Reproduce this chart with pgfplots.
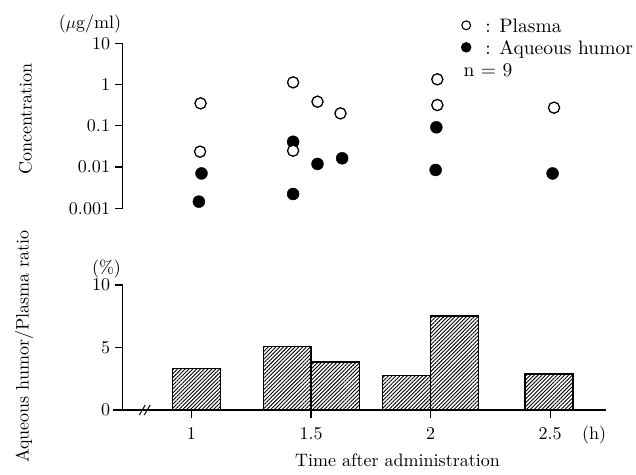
\documentclass[border=0pt]{standalone}
\usepackage{fontspec}
\setmainfont{lmroman10-regular.otf}[ItalicFont=lmroman10-italic.otf, BoldFont=lmroman10-bold.otf]
\usepackage{pgfplots}
\pgfplotsset{compat=1.18}
\usetikzlibrary{patterns.meta}

\newcommand{\fs}{\fontsize{18}{21.6}\selectfont}
\newcommand{\fl}{\fontsize{19.5}{23.4}\selectfont}

\pgfplotsset{
  common/.style={
    scale only axis,
    width=483.7pt,
    xmin=0.7125, xmax=2.735,
    tick align=outside,
    major tick length=8pt,
    axis line style={line width=1.2pt},
    tick style={black, line width=1.2pt},
    tick label style={font=\fs},
    /pgf/number format/assume math mode=true,
    clip=false,
  },
}

\begin{document}
\begin{tikzpicture}[font=\fs]
\useasboundingbox (0pt,0pt) rectangle (636pt,474pt);

% concentrations
\begin{axis}[
  common,
  at={(122.7pt,265.7pt)}, anchor=south west,
  height=165pt,
  ymode=log, ymin=0.001, ymax=10,
  axis x line=none, axis y line*=left,
  ytick={0.001,0.01,0.1,1,10},
  yticklabels={0.001,0.01,0.1,1,10},
  yminorticks=false,
  yticklabel style={inner sep=4.5pt},
  legend image code/.code={%
    \draw[#1] plot coordinates {(0pt,2pt)};
    \path (-5pt,0pt) (19pt,0pt);},
  legend style={draw=none, fill=none, inner sep=0pt, outer sep=0pt,
    at={(0.6994,1.1515)}, anchor=north west,
    row sep=4pt, font=\fl,
    nodes={inner sep=0pt, text height=14pt, text depth=4pt}},
  legend cell align=left,
]
\addlegendimage{only marks, mark=*, mark size=4.4pt,
  mark options={fill=white, draw=black, line width=1.1pt}}
\addlegendentry{: Plasma}
\addlegendimage{only marks, mark=*, mark size=5pt,
  mark options={fill=black, draw=black}}
\addlegendentry{: Aqueous humor}

% aqueous humor
\addplot[forget plot, only marks, mark=*, mark size=6pt,
  mark options={fill=black, draw=black, line width=0.4pt}] coordinates {
  (1.042,0.0070) (1.031,0.00145) (1.425,0.041) (1.425,0.00222)
  (1.527,0.0119) (1.630,0.0163) (2.024,0.092) (2.021,0.0085) (2.510,0.0070)
};
% plasma
\addplot[forget plot, only marks, mark=*, mark size=5.6pt,
  mark options={fill=white, draw=black, line width=1.3pt}] coordinates {
  (1.038,0.35) (1.036,0.0236) (1.425,1.13) (1.425,0.0249) (1.527,0.384)
  (1.623,0.20) (2.028,1.34) (2.028,0.319) (2.516,0.275)
};
\end{axis}

% ratio
\begin{axis}[
  common,
  at={(122.7pt,64pt)}, anchor=south west,
  height=125pt,
  ymin=0, ymax=10,
  axis x line*=bottom, axis y line*=left,
  xtick={1,1.5,2,2.5},
  xticklabels={1,1.5,2,2.5},
  ytick={0,5,10},
  yticklabel style={inner sep=4.5pt},
  xticklabel style={inner sep=0pt, yshift=-9pt},
]
\addplot[ybar, bar width=0.2, draw=black, line width=1.2pt,
  pattern={Lines[angle=45, distance=2.7pt, line width=0.9pt]}] coordinates {
  (1.02,3.34) (1.40,5.1) (1.603,3.84) (1.90,2.74) (2.10,7.52) (2.495,2.88)
};
\draw[line width=1.2pt] ([xshift=-10pt]axis cs:0.7125,0) -- (axis cs:0.7125,0);
\draw[line width=1pt] ([xshift=-7.5pt,yshift=-5pt]axis cs:0.813,0) -- ([xshift=-1.5pt,yshift=5pt]axis cs:0.813,0);
\draw[line width=1pt] ([xshift=-2.5pt,yshift=-5pt]axis cs:0.813,0) -- ([xshift=3.5pt,yshift=5pt]axis cs:0.813,0);
\end{axis}

% labels
\node at (90pt,450pt) {($\mu$g/ml)};
\node[rotate=90, anchor=base] at (31.5pt,355pt) {Concentration};
\node at (106.5pt,205pt) {(\%)};
\node[rotate=90, anchor=base] at (28.5pt,127.5pt) {Aqueous humor/Plasma ratio};
\node[anchor=base] at (594pt,35pt) {(h)};
\node[anchor=base] at (397.5pt,8pt) {Time after administration};
\node[anchor=base west, inner sep=0pt, font=\fl] at (463.3pt,397.3pt) {n = 9};
\end{tikzpicture}
\end{document}
